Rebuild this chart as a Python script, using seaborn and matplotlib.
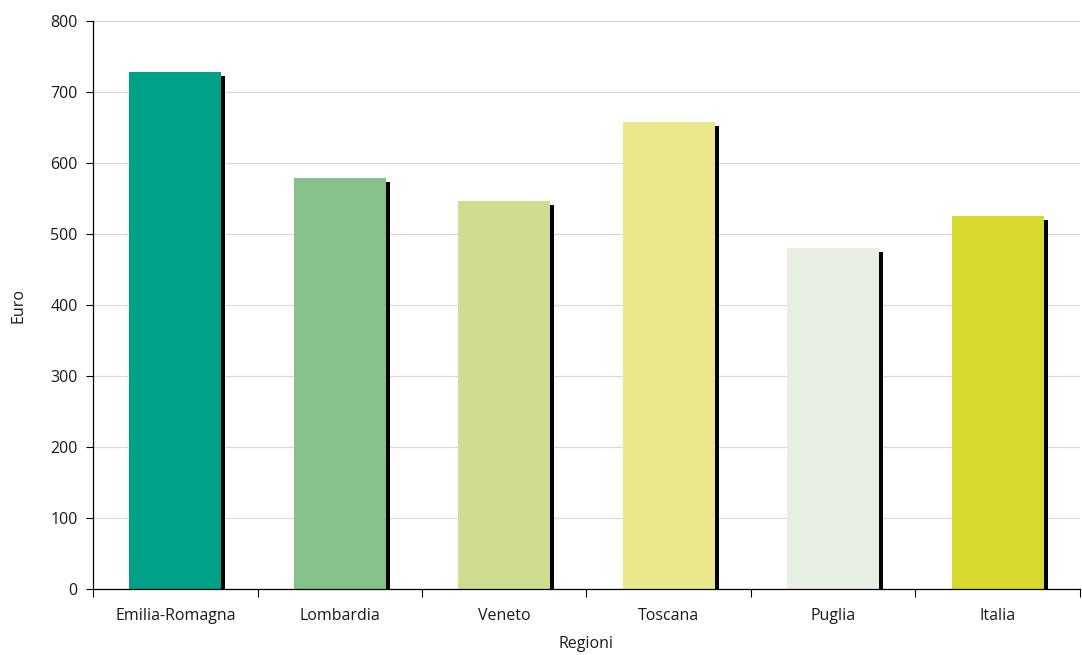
import matplotlib
matplotlib.use("Agg")
import matplotlib.pyplot as plt
import matplotlib.transforms as mtransforms
import seaborn as sns
import pandas as pd
import numpy as np

regioni = ["Emilia-Romagna", "Lombardia", "Veneto", "Toscana", "Puglia", "Italia"]
euro = [728, 579, 546, 658, 480, 525]
colori = ["#00A287", "#84C28A", "#CEDD8F", "#EAE88B", "#E7EFE3", "#D5DA2C"]

df = pd.DataFrame({"Regioni": regioni, "Euro": euro})

sns.set_theme(style="white")
plt.rcParams["font.family"] = ["Open Sans", "DejaVu Sans"]

fig = plt.figure(figsize=(10.82, 6.55), dpi=100)
ax = fig.add_axes([0.086, 0.1008, 0.912, 0.867])

# drop shadow: black bars shifted right and down
sns.barplot(data=df, x="Regioni", y="Euro", color="black", width=0.56,
            saturation=1, linewidth=0, ax=ax, zorder=2)
shift = mtransforms.ScaledTranslation(4 / 100, -4 / 100, fig.dpi_scale_trans)
for p in ax.patches:
    p.set_transform(ax.transData + shift)
    p.set_clip_on(True)

sns.barplot(data=df, x="Regioni", y="Euro", hue="Regioni", palette=colori,
            width=0.56, saturation=1, linewidth=0, legend=False, ax=ax, zorder=3)

ax.set_xlim(-0.5, len(regioni) - 0.5)
ax.set_ylim(0, 800)
ax.set_yticks(np.arange(0, 801, 100))
ax.yaxis.grid(True, color="#d9d9d9", linewidth=0.9, zorder=0)
ax.set_axisbelow(True)

for s in ["top", "right"]:
    ax.spines[s].set_visible(False)
for s in ["left", "bottom"]:
    ax.spines[s].set_color("black")
    ax.spines[s].set_linewidth(0.9)
    ax.spines[s].set_zorder(5)

ax.set_xticks(np.arange(-0.5, len(regioni) - 0.4, 1), minor=True)
ax.tick_params(axis="x", which="major", length=0, pad=14, labelsize=11.5, colors="#1a1a1a")
ax.tick_params(axis="x", which="minor", length=6, width=0.8, direction="out", color="black", bottom=True)
ax.tick_params(axis="y", which="major", length=5, width=0.8, direction="out", color="black",
               left=True, labelsize=11.5, pad=6, labelcolor="#1a1a1a")

ax.set_xlabel("Regioni", fontsize=11.5, labelpad=8, color="#1a1a1a")
ax.set_ylabel("Euro", fontsize=11.5, labelpad=17, color="#1a1a1a")

fig.savefig("out.png", dpi=100)
